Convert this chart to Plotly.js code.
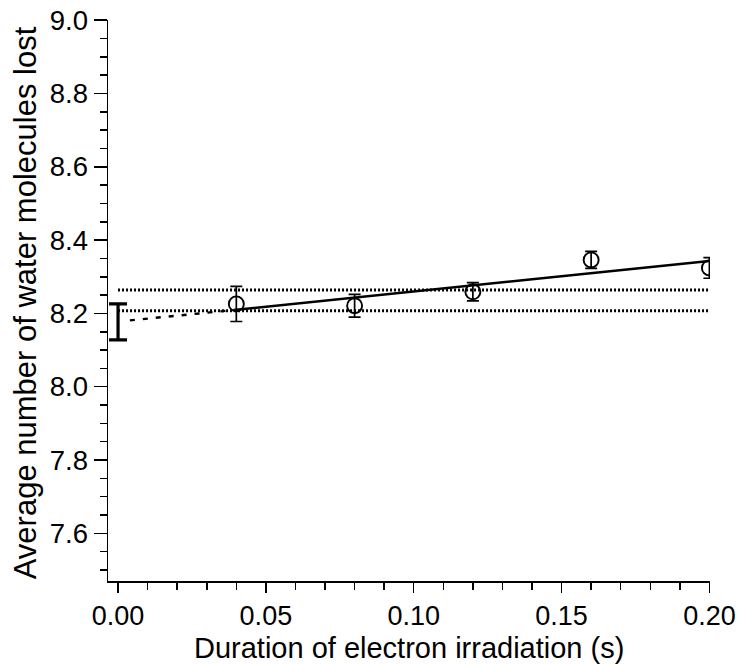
<!DOCTYPE html>
<html>
<head>
<meta charset="utf-8">
<script src="https://cdn.plot.ly/plotly-3.0.1.min.js"></script>
<style>html,body{margin:0;padding:0;background:#fff;}#chart{width:750px;height:665px;}</style>
</head>
<body>
<div id="chart"></div>
<script>
// Measured points
const durations = [0.04, 0.08, 0.12, 0.16, 0.20];
const waterLost = [8.226, 8.221, 8.259, 8.346, 8.324];
const waterErr = [0.048, 0.031, 0.025, 0.023, 0.028];

// Linear fit (solid) and its extrapolation to zero (dashed)
const fitX = [0.04, 0.20];
const fitY = [8.210, 8.343];
const extrapX = [0.004, 0.04];
const extrapY = [8.181, 8.210];

// Intercept at zero duration with its uncertainty
const interceptX = [0];
const interceptY = [8.177];
const interceptErr = [0.049];

// Horizontal dotted reference band
const bandX = [0, 0.20];
const bandUpper = [8.264, 8.264];
const bandLower = [8.207, 8.207];

// Axis titles
const xTitle = 'Duration of electron irradiation (s)';
const yTitle = 'Average number of water molecules lost';

const FONT = 'Liberation Sans, Arial, sans-serif';

const traces = [
  {x: bandX, y: bandUpper, mode: 'lines', line: {color: '#000', width: 3, dash: '2px,2px'}, hoverinfo: 'skip'},
  {x: bandX, y: bandLower, mode: 'lines', line: {color: '#000', width: 3, dash: '2px,2px'}, hoverinfo: 'skip'},
  {x: extrapX, y: extrapY, mode: 'lines', line: {color: '#000', width: 2.4, dash: '5px,8px'}},
  {x: fitX, y: fitY, mode: 'lines', line: {color: '#000', width: 2.6}},
  {x: interceptX, y: interceptY, mode: 'markers', marker: {size: 1, color: 'rgba(0,0,0,0)'},
   error_y: {type: 'data', array: interceptErr, visible: true, color: '#000', thickness: 3.2, width: 9}},
  {x: durations, y: waterLost, mode: 'markers',
   marker: {symbol: 'circle-open', size: 15, color: '#000', line: {width: 1.9, color: '#000'}},
   error_y: {type: 'data', array: waterErr, visible: true, color: '#000', thickness: 1.7, width: 6}}
];

const layout = {
  width: 750, height: 665,
  margin: {l: 108, r: 40, t: 20, b: 84},
  paper_bgcolor: '#fff', plot_bgcolor: '#fff',
  showlegend: false,
  font: {family: FONT, color: '#000'},
  xaxis: {
    range: [-0.0034, 0.2002],
    tickmode: 'linear', tick0: 0, dtick: 0.05, tickformat: '.2f',
    ticks: 'outside', ticklen: 10, tickwidth: 1.5, tickcolor: '#000',
    minor: {dtick: 0.01, tick0: 0, ticks: 'outside', ticklen: 7, tickwidth: 1.5, tickcolor: '#000'},
    showline: true, linecolor: '#000', linewidth: 1.5,
    showgrid: false, zeroline: false,
    tickfont: {family: FONT, size: 27, color: '#000'}
  },
  yaxis: {
    range: [7.47, 9.0005],
    tickmode: 'linear', tick0: 7.6, dtick: 0.2, tickformat: '.1f',
    ticks: 'outside', ticklen: 13, tickwidth: 1.5, tickcolor: '#000',
    minor: {dtick: 0.05, tick0: 7.5, ticks: 'outside', ticklen: 7, tickwidth: 1.5, tickcolor: '#000'},
    showline: true, linecolor: '#000', linewidth: 1.5,
    showgrid: false, zeroline: false,
    tickfont: {family: FONT, size: 27.5, color: '#000'}
  },
  annotations: [
    {text: xTitle, xref: 'paper', yref: 'paper', x: 0.5, y: -0.119, xanchor: 'center', yanchor: 'middle',
     showarrow: false, borderpad: 0, font: {family: FONT, size: 29, color: '#000'}},
    {text: yTitle, xref: 'paper', yref: 'paper', x: -0.137, y: 0.496, xanchor: 'center', yanchor: 'middle',
     textangle: -90, showarrow: false, font: {family: FONT, size: 31, color: '#000'}}
  ]
};

Plotly.newPlot('chart', traces, layout, {staticPlot: true, displayModeBar: false});
</script>
</body>
</html>
